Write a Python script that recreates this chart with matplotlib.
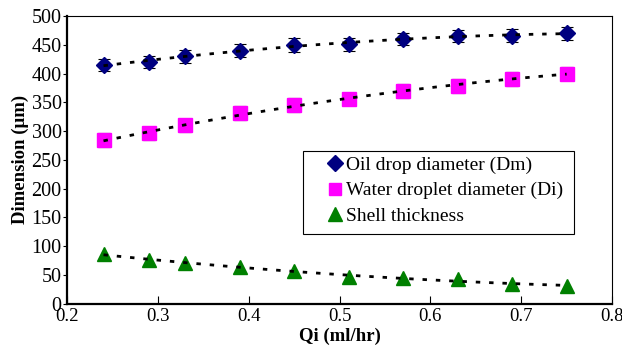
import matplotlib
matplotlib.use('Agg')
import matplotlib.pyplot as plt
from matplotlib.lines import Line2D
from matplotlib.patches import Rectangle
import numpy as np

plt.rcParams['font.family'] = ['Liberation Serif', 'DejaVu Serif']

# data
qi = [0.24, 0.29, 0.33, 0.39, 0.45, 0.51, 0.57, 0.63, 0.69, 0.75]
dm = [415, 420, 430, 440, 450, 451, 460, 465, 466, 470]
di = [284, 296, 310, 331, 346, 355, 369, 379, 391, 400]
shell = [87, 76, 70, 63, 57, 47, 44, 43, 35, 30]
dm_err = [11, 11, 11, 12, 12, 11, 10, 11, 11, 11]
di_err = [12, 11, 11, 12, 12, 10, 12, 12, 12, 11]
names = ['Oil drop diameter (Dm)', 'Water droplet diameter (Di)', 'Shell thickness']

W, H = 622, 356
fig = plt.figure(figsize=(W / 100, H / 100), dpi=100)
ax = fig.add_axes([0.108, 0.147, 0.876, 0.808])

x = np.array(qi)
xs = np.linspace(x.min(), x.max(), 100)

# trendlines (2nd order fit)
for y in (dm, di, shell):
    p = np.polyfit(x, y, 2)
    ax.plot(xs, np.polyval(p, xs), color='black', ls=(0, (1.6, 3.2)), lw=2.0, zorder=3)

ax.errorbar(qi, dm, yerr=dm_err, fmt='D', color='#000080', ms=8,
            ecolor='black', elinewidth=0.8, capsize=4, capthick=0.8, zorder=2)
ax.errorbar(qi, di, yerr=di_err, fmt='s', color='#ff00ff', ms=9.5,
            ecolor='black', elinewidth=0.8, capsize=4, capthick=0.8, zorder=2)
ax.plot(qi, shell, '^', color='#008000', ms=10, ls='none', zorder=2)

ax.set_xlim(0.2, 0.8)
ax.set_ylim(0, 500)
ax.set_xticks(np.arange(0.2, 0.81, 0.1))
ax.set_xticklabels(['0.2', '0.3', '0.4', '0.5', '0.6', '0.7', '0.8'])
ax.set_yticks(range(0, 501, 50))
ax.tick_params(axis='x', direction='in', length=6, labelsize=13.5, pad=3)
ax.tick_params(axis='y', direction='out', length=3, labelsize=14.5, pad=1)
for s in ('left', 'bottom'):
    ax.spines[s].set_linewidth(1.6)
for s in ('top', 'right'):
    ax.spines[s].set_linewidth(0.8)

ax.set_xlabel('Qi (ml/hr)', fontsize=13.5, fontweight='bold', labelpad=2)
ax.set_ylabel('Dimension (μm)', fontsize=13.5, fontweight='bold', labelpad=2)

handles = [
    Line2D([], [], marker='D', color='#000080', ls='none', ms=8),
    Line2D([], [], marker='s', color='#ff00ff', ls='none', ms=9),
    Line2D([], [], marker='^', color='#008000', ls='none', ms=10.5),
]
# legend without frame, box drawn separately (wide left margin)
leg = fig.legend(handles, names, loc='upper left',
                 bbox_to_anchor=(323 / W, 1 - 151 / H),
                 fontsize=14, frameon=False,
                 handlelength=0.7, handletextpad=0.25, borderpad=0.25, labelspacing=0.42,
                 borderaxespad=0)
fig.add_artist(Rectangle((303 / W, 1 - 234 / H), 271 / W, 83 / H,
                         transform=fig.transFigure, fill=True, facecolor='white',
                         edgecolor='black', lw=0.8, zorder=4))
leg.set_zorder(5)

fig.savefig('out.png', dpi=100)
